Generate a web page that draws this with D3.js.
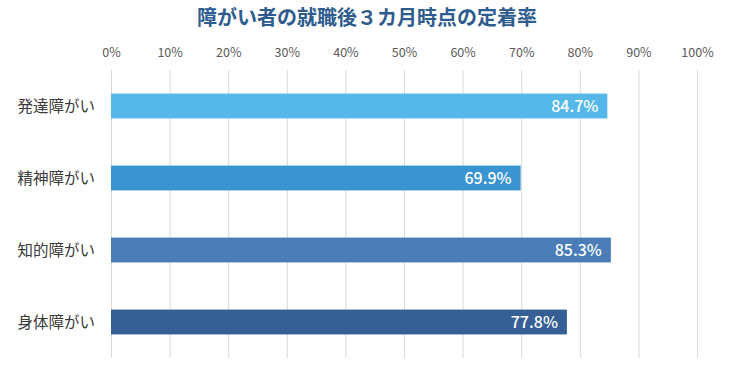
<!DOCTYPE html>
<html><head><meta charset="utf-8">
<script src="https://cdn.jsdelivr.net/npm/d3@7"></script>
<style>body{margin:0;background:#fff}svg{display:block}</style>
</head><body>
<script>
const categories = ["発達障がい","精神障がい","知的障がい","身体障がい"];
const values = [84.7, 69.9, 85.3, 77.8];
const colors = ["#56B8E9","#3A94D1","#4A7DB7","#365F96"];
const tickValues = [0,10,20,30,40,50,60,70,80,90,100];
const title = "障がい者の就職後３カ月時点の定着率";

const W=730,H=370;
const m={top:70,left:111,right:33,bottom:12};
const svg=d3.select("body").append("svg").attr("width",W).attr("height",H);
const font='"Noto Sans CJK JP","Noto Sans",sans-serif';

const x=d3.scaleLinear().domain([0,100]).range([m.left,W-m.right]);
const y=d3.scaleBand().domain(categories).range([m.top,H-m.bottom]).paddingInner(0.655).paddingOuter(0.3275);

svg.append("text").attr("x",367).attr("y",25).attr("text-anchor","middle")
  .attr("font-family",font).attr("font-size",20).attr("font-weight","bold")
  .attr("fill","#2E5C8E").text(title);

const ax=svg.append("g").attr("transform",`translate(0,${m.top})`)
  .call(d3.axisTop(x).tickValues(tickValues).tickFormat(d=>d+"%").tickSize(-(H-m.bottom-m.top)).tickPadding(13));
ax.select(".domain").remove();
ax.selectAll(".tick line").attr("stroke","#D9D9D9").attr("stroke-width",1);
ax.selectAll(".tick text").attr("font-family",font).attr("font-size",12.5).attr("fill","#595959");

svg.append("g").selectAll("rect").data(values).join("rect")
  .attr("x",x(0)).attr("y",(d,i)=>y(categories[i]))
  .attr("width",d=>x(d)-x(0)).attr("height",y.bandwidth())
  .attr("fill",(d,i)=>colors[i]);

svg.append("g").selectAll("text").data(values).join("text")
  .attr("x",d=>x(d)-9).attr("y",(d,i)=>y(categories[i])+y.bandwidth()/2)
  .attr("dy","0.36em").attr("text-anchor","end")
  .attr("font-family",font).attr("font-size",16).attr("font-weight","500")
  .attr("fill","#fff").text(d=>d.toFixed(1)+"%");

svg.append("g").selectAll("text").data(categories).join("text")
  .attr("x",95).attr("y",d=>y(d)+y.bandwidth()/2).attr("dy","0.36em")
  .attr("text-anchor","end").attr("font-family",font).attr("font-size",15.5)
  .attr("fill","#3A3A3A").text(d=>d);
</script>
</body></html>
